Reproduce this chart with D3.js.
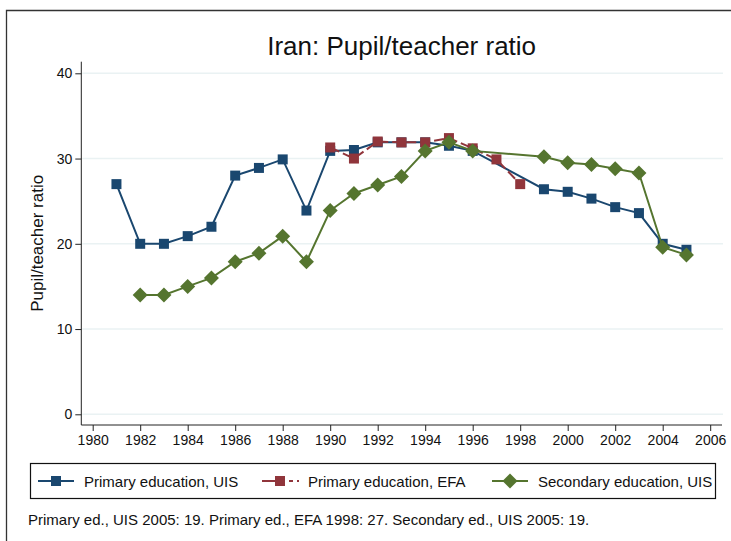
<!DOCTYPE html>
<html><head><meta charset="utf-8">
<script src="https://cdn.jsdelivr.net/npm/d3@7"></script>
<style>body{margin:0;background:#fff}svg{display:block;font-family:"Liberation Sans",Arial,sans-serif}</style>
</head><body><svg id="c" width="731" height="541"></svg>
<script>
const primaryUISYears = [1981,1982,1983,1984,1985,1986,1987,1988,1989,1990,1991,1992,1993,1994,1995,1996,1999,2000,2001,2002,2003,2004,2005];
const primaryUISValues = [27,20,20,20.9,22,28,28.9,29.9,23.9,30.9,31,31.9,31.9,31.9,31.5,30.9,26.4,26.1,25.3,24.3,23.6,20,19.3];
const primaryEFAYears = [1990,1991,1992,1993,1994,1995,1996,1997,1998];
const primaryEFAValues = [31.3,30,32,31.9,31.9,32.4,31.2,29.9,27];
const secondaryUISYears = [1982,1983,1984,1985,1986,1987,1988,1989,1990,1991,1992,1993,1994,1995,1996,1999,2000,2001,2002,2003,2004,2005];
const secondaryUISValues = [14,14,15,16,17.9,18.9,20.9,17.9,23.9,25.9,26.9,27.9,30.9,31.9,30.9,30.2,29.5,29.3,28.8,28.3,19.6,18.7];
const xTicks = [1980,1982,1984,1986,1988,1990,1992,1994,1996,1998,2000,2002,2004,2006];
const yTicks = [0,10,20,30,40];
const seriesNames = ["Primary education, UIS","Primary education, EFA","Secondary education, UIS"];
const titleText = "Iran: Pupil/teacher ratio";
const yTitle = "Pupil/teacher ratio";
const noteText = "Primary ed., UIS 2005: 19. Primary ed., EFA 1998: 27. Secondary ed., UIS 2005: 19.";

const colors = ["#1a476f","#90353b","#55752f"];
const svg = d3.select("#c");

// outer border
svg.append("path").attr("d","M6.5,545 V10.5 H735").attr("fill","none").attr("stroke","#333").attr("stroke-width",1.3);

const x = d3.scaleLinear().domain([1980,2006]).range([92.7,710.2]);
const y = d3.scaleLinear().domain([0,40]).range([414.3,73.3]);
const plotL = 81.3, plotR = 722, plotB = 425, plotT = 61.7;

// grid
svg.append("g").selectAll("line").data(yTicks).join("line")
  .attr("x1",plotL+1).attr("x2",723).attr("y1",d=>y(d)).attr("y2",d=>y(d))
  .attr("stroke","#eaf2f3").attr("stroke-width",1.6);

// axes
const yAxis = svg.append("g").attr("transform",`translate(${plotL},0)`)
  .call(d3.axisLeft(y).tickValues(yTicks).tickSize(6).tickPadding(3).tickFormat(d3.format("d")));
yAxis.select(".domain").attr("d",`M0,${plotT}V${plotB}`).attr("stroke","#222");
yAxis.selectAll(".tick line").attr("stroke","#222");
yAxis.selectAll("text").attr("font-size",14).attr("fill","#111").attr("font-family","Liberation Sans, Arial, sans-serif");

const xAxis = svg.append("g").attr("transform",`translate(0,${plotB})`)
  .call(d3.axisBottom(x).tickValues(xTicks).tickSize(6).tickPadding(4).tickFormat(d3.format("d")));
xAxis.select(".domain").attr("d",`M${plotL},0H${plotR}`).attr("stroke","#222");
xAxis.selectAll(".tick line").attr("stroke","#222");
xAxis.selectAll("text").attr("font-size",14).attr("fill","#111").attr("font-family","Liberation Sans, Arial, sans-serif");

// titles
svg.append("text").attr("x",(plotL+plotR)/2).attr("y",55).attr("text-anchor","middle")
  .attr("font-size",26).attr("fill","#111").text(titleText);
svg.append("text").attr("transform",`translate(43,${(plotT+plotB)/2}) rotate(-90)`).attr("text-anchor","middle")
  .attr("font-size",17).attr("fill","#111").text(yTitle);

const series = [
  {xs:primaryUISYears, ys:primaryUISValues, c:colors[0], dash:null, shape:"square"},
  {xs:primaryEFAYears, ys:primaryEFAValues, c:colors[1], dash:"10,4", shape:"square"},
  {xs:secondaryUISYears, ys:secondaryUISValues, c:colors[2], dash:null, shape:"diamond"}
];
const line = d3.line().x(d=>x(d[0])).y(d=>y(d[1]));
const sq = d3.symbol().type(d3.symbolSquare).size(100);
const dia = "M0,-7.5L7.5,0L0,7.5L-7.5,0Z";

series.forEach(s=>{
  const pts = s.xs.map((v,i)=>[v,s.ys[i]]);
  const g = svg.append("g");
  g.append("path").attr("d",line(pts)).attr("fill","none").attr("stroke",s.c).attr("stroke-width",2)
    .attr("stroke-dasharray",s.dash);
  g.selectAll("path.m").data(pts).join("path").attr("class","m")
    .attr("transform",d=>`translate(${x(d[0])},${y(d[1])})`)
    .attr("d",s.shape==="square"?sq():dia).attr("fill",s.c);
});

// legend
svg.append("rect").attr("x",30.5).attr("y",463.5).attr("width",685).attr("height",35)
  .attr("fill","#fff").attr("stroke","#111").attr("stroke-width",1.2);
const legX = [38,262,492];
const legTextX = [84,308,538];
const legY = 481;
series.forEach((s,i)=>{
  const g = svg.append("g").attr("transform",`translate(${legX[i]},${legY})`);
  if(s.dash){
    g.append("path").attr("d","M0,0H37").attr("stroke",s.c).attr("stroke-width",2).attr("stroke-dasharray","14,4,5,4,4,4");
  } else {
    g.append("path").attr("d","M0,0H36").attr("stroke",s.c).attr("stroke-width",2);
  }
  g.append("path").attr("transform","translate(18,0)").attr("d",s.shape==="square"?sq():dia).attr("fill",s.c);
  svg.append("text").attr("x",legTextX[i]).attr("y",legY+5.5).attr("font-size",15).attr("fill","#111").text(seriesNames[i]);
});

svg.append("text").attr("x",28).attr("y",525).attr("font-size",15).attr("fill","#111").text(noteText);
</script></body></html>
